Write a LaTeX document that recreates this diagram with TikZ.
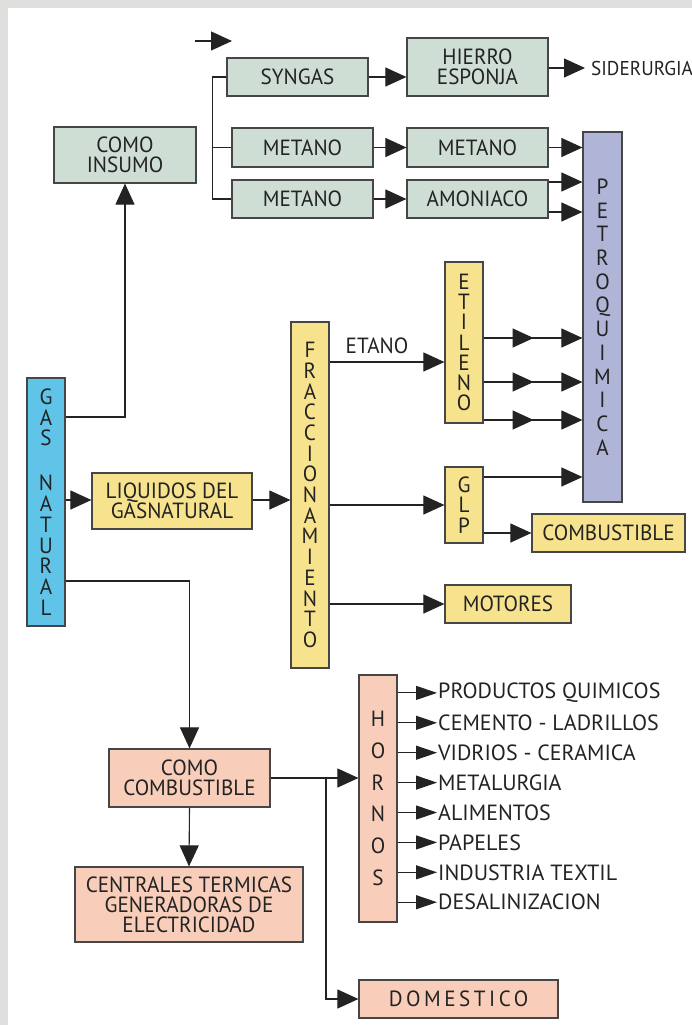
\documentclass[tikz,border=0pt]{standalone}
\usepackage{fontspec}
\setmainfont[FakeStretch=0.96]{PT Sans}
\newfontfamily\outfont{PT Sans}
\usetikzlibrary{arrows.meta,decorations.markings,calc}
\definecolor{gfill}{RGB}{207,222,212}
\definecolor{yfill}{RGB}{247,226,142}
\definecolor{bfill}{RGB}{96,196,232}
\definecolor{pfill}{RGB}{176,180,214}
\definecolor{sfill}{RGB}{248,206,186}
\definecolor{edge}{RGB}{70,70,70}
\definecolor{ink}{RGB}{35,35,35}
\definecolor{bandgray}{RGB}{222,222,220}
\begin{document}
\begin{tikzpicture}[x=1pt,y=-1pt,
  box/.style={draw=edge, line width=1.2pt, inner sep=0pt, text=ink, align=center,
    font=\fontsize{22}{20}\selectfont},
  gbox/.style={box, fill=gfill},
  ybox/.style={box, fill=yfill},
  sbox/.style={box, fill=sfill},
  vbox/.style={box, font=\fontsize{22}{#1}\selectfont},
  txt/.style={inner sep=0pt, text=ink, font=\fontsize{22}{20}\selectfont},
  otxt/.style={inner sep=0pt, text=ink, font=\outfont\fontsize{22}{20}\selectfont},
  conn/.style={draw=ink, line width=1.1pt},
  arr/.style={conn, -{Triangle[length=21pt,width=19pt]}},
  harr/.style={conn, -{Triangle[length=21pt,width=14pt]}},
  midarr/.style={postaction={decorate}, decoration={markings,
    mark=at position 50pt with {\arrow{Triangle[length=21pt,width=19pt]}}}}
]
\useasboundingbox (0,0) rectangle (692,1025);
\fill[white] (0,0) rectangle (692,1025);
\fill[bandgray] (0,0) rectangle (692,8);
\fill[bandgray] (0,0) rectangle (8,1025);

% ---- top green block ----
\node[gbox, minimum width=142pt, minimum height=56pt] (insumo) at (125,155) {COMO\\INSUMO};
\node[gbox, minimum width=141pt, minimum height=38pt] (syngas) at (297.5,77) {SYNGAS};
\node[gbox, minimum width=141pt, minimum height=58pt] (hierro) at (477.5,67) {HIERRO\\ESPONJA};
\node[gbox, minimum width=141pt, minimum height=39pt] (metA) at (302.5,147.5) {METANO};
\node[gbox, minimum width=141pt, minimum height=39pt] (metB) at (477.5,147.5) {METANO};
\node[gbox, minimum width=141pt, minimum height=38pt] (metC) at (302.5,199) {METANO};
\node[gbox, minimum width=141pt, minimum height=38pt] (amon) at (477.5,199) {AMONIACO};
\node[txt, anchor=west, inner xsep=6pt, font=\fontsize{20}{20}\selectfont] (sider) at (585,68) {SIDERURGIA};

\node[vbox=23.7, fill=pfill, minimum width=39pt, minimum height=370pt] (petro) at (602.5,317)
  {P\\E\\T\\R\\O\\Q\\U\\I\\M\\I\\C\\A};

% ---- yellow block ----
\node[vbox=20.8, fill=bfill, minimum width=38pt, minimum height=248pt] (gas) at (46,502)
  {G\\A\\S\\[24pt]N\\A\\T\\U\\R\\A\\L};
\node[ybox, minimum width=160pt, minimum height=56pt] (liq) at (172,501) {LIQUIDOS DEL\\GASNATURAL};
\node[vbox=20.7, fill=yfill, minimum width=38pt, minimum height=346pt] (fracc) at (310,495)
  {F\\R\\A\\C\\C\\I\\O\\N\\A\\M\\I\\E\\N\\T\\O};
\node[vbox=20.3, fill=yfill, minimum width=38pt, minimum height=161pt] (etileno) at (464,342.5)
  {E\\T\\I\\L\\E\\N\\O};
\node[vbox=20.5, fill=yfill, minimum width=38pt, minimum height=76pt] (glp) at (464,505) {G\\L\\P};
\node[ybox, minimum width=153pt, minimum height=38pt] (comb) at (608.5,533) {COMBUSTIBLE};
\node[ybox, minimum width=126pt, minimum height=38pt] (motores) at (508,604) {MOTORES};
\node[txt] (etano) at (377,346) {ETANO};

% ---- salmon block ----
\node[sbox, minimum width=161pt, minimum height=58pt] (comocomb) at (189.5,778) {COMO\\COMBUSTIBLE};
\node[sbox, minimum width=228pt, minimum height=75pt] (centrales) at (189,904.5)
  {CENTRALES TERMICAS\\GENERADORAS DE\\ELECTRICIDAD};
\node[vbox=31.8, fill=sfill, minimum width=38pt, minimum height=247pt] (hornos) at (378,798.5)
  {H\\O\\R\\N\\O\\S};
\node[sbox, minimum width=199pt, minimum height=38pt] (domestico) at (458.5,999)
  {\addfontfeature{LetterSpace=16}DOMESTICO};

% ---- connectors ----
\coordinate (s0) at (195,41);
\coordinate (s1) at (232,41);
\draw[arr] (s0) -- (s1);

\draw[conn] (syngas.west) -- ++(-14,0) |- (metC.west);
\draw[conn] (metA.west) -- ++(-19,0);
\draw[arr] (syngas.east) -- (syngas.east -| hierro.west);
\draw[arr] (hierro.east |- sider.west) -- (sider.west);
\draw[arr] (metA.east) -- (metB.west);
\draw[arr] (metC.east) -- (amon.west);
\draw[arr] (metB.east) -- (metB.east -| petro.west);
\draw[arr] (amon.east |- 0,182) -- (petro.west |- 0,182);
\draw[arr] (amon.east |- 0,212) -- (petro.west |- 0,212);

\draw[arr] (gas.east |- 0,417) -| (insumo.south);
\draw[arr] (gas.east |- 0,500) -- (liq.west |- 0,500);
\draw[arr] (liq.east |- 0,500) -- (fracc.west |- 0,500);
\draw[arr] (gas.east |- 0,581) -| (comocomb.north);

\draw[arr] (fracc.east |- 0,362) -- (etileno.west |- 0,362);
\foreach \yy in {338,382,420}
  \draw[arr, midarr] (etileno.east |- 0,\yy) -- (petro.west |- 0,\yy);
\draw[arr] (fracc.east |- glp.west) -- (glp.west);
\draw[arr] (glp.east |- 0,477) -- (petro.west |- 0,477);
\draw[arr] (glp.east |- comb.west) -- (comb.west);
\draw[arr] (fracc.east |- motores.west) -- (motores.west);

\draw[arr] (comocomb.south) -- (centrales.north);
\draw[arr] (comocomb.east) -- (comocomb.east -| hornos.west);
\draw[arr] (comocomb.east -| 326,0) |- (domestico.west);

\foreach \t [count=\i] in {PRODUCTOS QUIMICOS, CEMENTO - LADRILLOS, VIDRIOS - CERAMICA,
    METALURGIA, ALIMENTOS, PAPELES, INDUSTRIA TEXTIL, DESALINIZACION} {
  \pgfmathsetmacro{\yy}{663+29.9*\i}
  \node[otxt, anchor=west, inner xsep=1pt] (o\i) at (437,\yy) {\t};
  \draw[harr] (hornos.east |- o\i.west) -- (o\i.west);
}
\end{tikzpicture}
\end{document}
